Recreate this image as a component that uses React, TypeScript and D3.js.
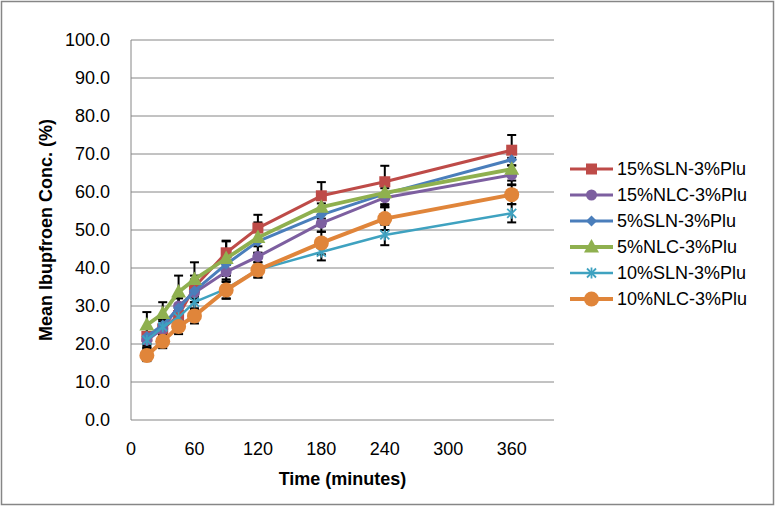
import React from "react";
import * as d3 from "d3";

// sampling times (minutes)
const times = [15, 30, 45, 60, 90, 120, 180, 240, 360];

const seriesNames = [
  "15%SLN-3%Plu",
  "15%NLC-3%Plu",
  "5%SLN-3%Plu",
  "5%NLC-3%Plu",
  "10%SLN-3%Plu",
  "10%NLC-3%Plu",
];

// mean release (%)
const sln15 = [22, 24, 27.5, 35, 44, 50.5, 59, 62.7, 71];
const nlc15 = [21, 24, 30, 33.5, 39, 43, 51.8, 58.5, 64.5];
const sln5 = [22, 25, 29.5, 34, 41, 47, 54, 59.5, 68.5];
const nlc5 = [25, 28, 33.7, 37, 42.5, 48, 56, 59.8, 66];
const sln10 = [21, 24.5, 27, 31, 34.5, 39.5, 44.2, 48.7, 54.4];
const nlc10 = [17, 20.7, 24.6, 27.4, 34.2, 39.5, 46.6, 53, 59.3];

// standard deviations
const sln15Err = [2.5, 2.5, 3, 3, 3.2, 3.5, 3.6, 4.2, 4];
const nlc15Err = [2, 2, 2.5, 2.5, 2.7, 2.7, 2.3, 2.5, 2.5];
const sln5Err = [2, 2, 2.5, 3, 3, 3, 3, 3, 3];
const nlc5Err = [3.4, 3, 4.3, 4.5, 4.5, 4, 3, 3, 3];
const sln10Err = [2, 2, 2, 2, 2.5, 2, 2.2, 2.7, 2.4];
const nlc10Err = [1.5, 1.8, 2, 2, 2.3, 2, 3, 3, 2.5];

const yTicks = [0, 10, 20, 30, 40, 50, 60, 70, 80, 90, 100];
const xTicks = [0, 60, 120, 180, 240, 300, 360];

type Marker = "square" | "circle" | "diamond" | "triangle" | "star" | "bigcircle";

interface Series {
  name: string;
  values: number[];
  errors: number[];
  color: string;
  marker: Marker;
  width: number;
}

const series: Series[] = [
  { name: seriesNames[0], values: sln15, errors: sln15Err, color: "#BE4B48", marker: "square", width: 3 },
  { name: seriesNames[1], values: nlc15, errors: nlc15Err, color: "#7D5FA0", marker: "circle", width: 3 },
  { name: seriesNames[2], values: sln5, errors: sln5Err, color: "#4A7EBB", marker: "diamond", width: 3 },
  { name: seriesNames[3], values: nlc5, errors: nlc5Err, color: "#8FB04F", marker: "triangle", width: 3.8 },
  { name: seriesNames[4], values: sln10, errors: sln10Err, color: "#3FA2C0", marker: "star", width: 2.5 },
  { name: seriesNames[5], values: nlc10, errors: nlc10Err, color: "#E0853A", marker: "bigcircle", width: 4 },
];

const FONT = "'Liberation Sans', Arial, sans-serif";

const MarkerShape: React.FC<{ kind: Marker; x: number; y: number; color: string }> = ({ kind, x, y, color }) => {
  switch (kind) {
    case "square":
      return <rect x={x - 5.5} y={y - 5.5} width={11} height={11} fill={color} />;
    case "circle":
      return <circle cx={x} cy={y} r={5.5} fill={color} />;
    case "bigcircle":
      return <circle cx={x} cy={y} r={7.5} fill={color} />;
    case "diamond":
      return <path d={`M${x},${y - 5.5}L${x + 5.5},${y}L${x},${y + 5.5}L${x - 5.5},${y}Z`} fill={color} />;
    case "triangle":
      return <path d={`M${x},${y - 8}L${x + 7.5},${y + 5.5}L${x - 7.5},${y + 5.5}Z`} fill={color} />;
    case "star":
      return (
        <g stroke={color} strokeWidth={1.8}>
          <line x1={x - 4.5} y1={y - 4.5} x2={x + 4.5} y2={y + 4.5} />
          <line x1={x - 4.5} y1={y + 4.5} x2={x + 4.5} y2={y - 4.5} />
          <line x1={x} y1={y - 5.5} x2={x} y2={y + 5.5} />
        </g>
      );
  }
  return null;
};

const App: React.FC = () => {
  const width = 776;
  const height = 507;
  const x = d3.scaleLinear().domain([0, 400]).range([131, 554]);
  const y = d3.scaleLinear().domain([0, 100]).range([420, 40]);

  const line = d3
    .line<[number, number]>()
    .x((d) => x(d[0]))
    .y((d) => y(d[1]));

  return (
    <svg
      width={width}
      height={height}
      style={{ position: "absolute", left: 0, top: 0, background: "#fff" }}
      fontFamily={FONT}
    >
      <rect x={1.5} y={1.5} width={width - 4} height={height - 4} fill="#fff" stroke="#868686" strokeWidth={1.5} />

      {/* gridlines */}
      {yTicks.map((t) => (
        <line key={t} x1={x(0)} x2={x(400)} y1={y(t)} y2={y(t)} stroke="#868686" strokeWidth={1} />
      ))}
      <line x1={x(0)} x2={x(0)} y1={y(100)} y2={y(0)} stroke="#868686" strokeWidth={1} />

      {/* tick labels */}
      {yTicks.map((t) => (
        <text key={t} x={110} y={y(t)} dy="0.35em" textAnchor="end" fontSize={18} fill="#000">
          {t.toFixed(1)}
        </text>
      ))}
      {xTicks.map((t) => (
        <text key={t} x={x(t)} y={455} textAnchor="middle" fontSize={18} fill="#000">
          {t}
        </text>
      ))}

      {/* axis titles */}
      <text x={x(200)} y={485} textAnchor="middle" fontSize={18} fontWeight="bold">
        Time (minutes)
      </text>
      <text transform={`translate(52,${y(50)}) rotate(-90)`} textAnchor="middle" fontSize={18} fontWeight="bold">
        Mean Ibupfroen Conc. (%)
      </text>

      {/* error bars */}
      <g stroke="#000" strokeWidth={2}>
        {series.map((s) =>
          s.values.map((v, i) => {
            const cx = x(times[i]);
            const hi = y(v + s.errors[i]);
            const lo = y(v - s.errors[i]);
            return (
              <g key={s.name + i}>
                <line x1={cx} x2={cx} y1={hi} y2={lo} />
                <line x1={cx - 4.5} x2={cx + 4.5} y1={hi} y2={hi} />
                <line x1={cx - 4.5} x2={cx + 4.5} y1={lo} y2={lo} />
              </g>
            );
          })
        )}
      </g>

      {/* series */}
      {series.map((s) => (
        <g key={s.name}>
          <path
            d={line(times.map((t, i) => [t, s.values[i]] as [number, number])) || ""}
            fill="none"
            stroke={s.color}
            strokeWidth={s.width}
            strokeLinejoin="round"
          />
          {s.values.map((v, i) => (
            <MarkerShape key={i} kind={s.marker} x={x(times[i])} y={y(v)} color={s.color} />
          ))}
        </g>
      ))}

      {/* legend */}
      {series.map((s, i) => {
        const ly = 169 + i * 26;
        return (
          <g key={s.name}>
            <line x1={570} x2={613} y1={ly} y2={ly} stroke={s.color} strokeWidth={s.width} />
            <MarkerShape kind={s.marker} x={591.5} y={ly} color={s.color} />
            <text x={617} y={ly} dy="0.35em" fontSize={18} fill="#000">
              {s.name}
            </text>
          </g>
        );
      })}
    </svg>
  );
};

export default App;
